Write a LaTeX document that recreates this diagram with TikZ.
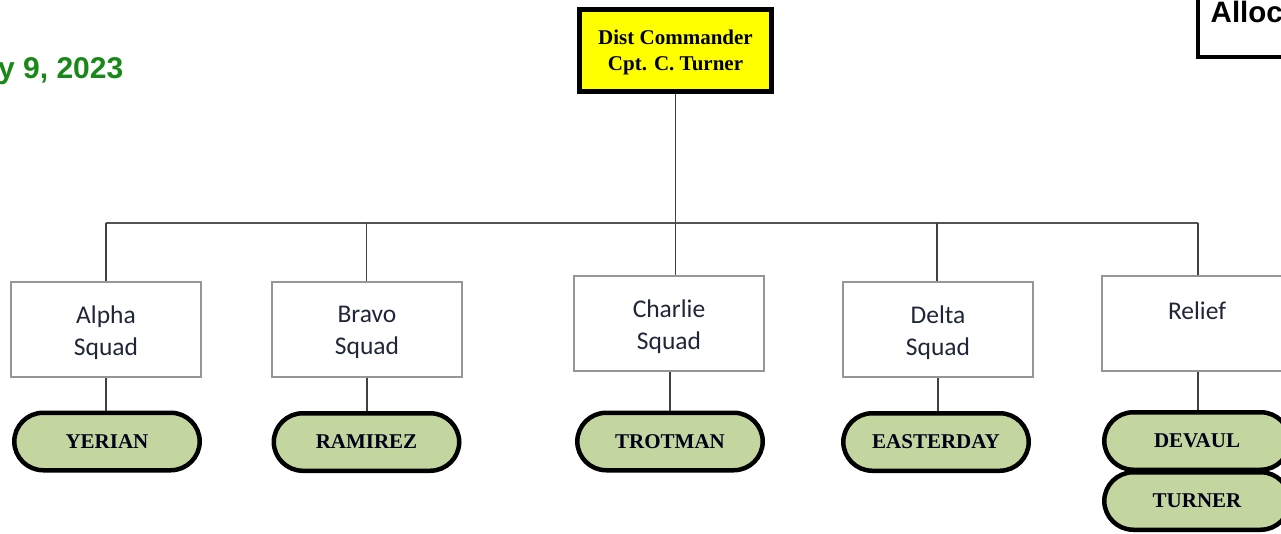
\documentclass[tikz,border=0pt]{standalone}
\usepackage{fontspec}
\setmainfont{Liberation Serif}
\newfontfamily\calibri{Carlito}
\newfontfamily\arialf{Liberation Sans}
\definecolor{pillgreen}{RGB}{196,214,160}
\definecolor{cmdyellow}{RGB}{255,255,0}
\definecolor{datgreen}{RGB}{24,136,24}
\definecolor{squadtext}{RGB}{30,38,56}
\definecolor{linegray}{RGB}{64,64,64}
\definecolor{boxgray}{RGB}{150,150,150}
\newcommand{\lowr}[2]{\raisebox{-#1}[\height][\depth]{#2}}
\tikzset{
  cmdbox/.style={draw=black, line width=5pt, fill=cmdyellow, minimum width=192pt, minimum height=82pt, inner sep=0pt, align=center, font=\fontsize{21}{26}\selectfont\bfseries},
  squadbox/.style={draw=boxgray, line width=1.4pt, fill=white, minimum width=190pt, minimum height=95pt, inner sep=0pt, align=center, text=squadtext, font=\calibri\fontsize{25.5}{32}\selectfont},
  pill/.style={draw=black, line width=4.5pt, fill=pillgreen, rounded corners=29pt, minimum width=185.5pt, minimum height=57.5pt, inner sep=0pt, text=black!90!blue, font=\fontsize{21}{24}\selectfont\bfseries},
  conn/.style={draw=linegray, line width=1.3pt},
  bar/.style={draw=linegray!90, line width=2pt}
}
\begin{document}
\begin{tikzpicture}[x=1pt,y=-1pt]
\useasboundingbox (0,0) rectangle (1281,533);
% cropped header elements
\node[anchor=base east, text=datgreen, font=\arialf\fontsize{30}{30}\selectfont\bfseries, inner sep=0pt] (date) at (123.5,78.5) {y 9, 2023};
\draw[line width=4pt, draw=black, fill=white] (1198,-20) rectangle (1400,56.5);
\node[anchor=base west, font=\arialf\fontsize{29.5}{30}\selectfont\bfseries, inner sep=0pt] (alloc) at (1210.5,22.5) {Alloc};
% commander
\node[cmdbox] (cmd) at (675.5,50.5) {\lowr{2pt}{Dist Commander}\\\lowr{2pt}{Cpt. C. Turner}};
\coordinate (barL) at (106,222.5);
\coordinate (barR) at (1198,222.5);
\coordinate (barM) at (675.5,222.5);
\coordinate (dB) at (366.5,222.5);
\coordinate (dD) at (937,222.5);
% squads
\node[squadbox] (alpha) at (106,329.5) {\lowr{3pt}{Alpha}\\\lowr{3pt}{Squad}};
\node[squadbox] (bravo) at (367,329.5) {\lowr{3pt}{Bravo}\\\lowr{3pt}{Squad}};
\node[squadbox] (charlie) at (669,323.5) {\lowr{3pt}{Charlie}\\\lowr{3pt}{Squad}};
\node[squadbox] (delta) at (938,329.5) {\lowr{3pt}{Delta}\\\lowr{3pt}{Squad}};
\node[squadbox] (relief) at (1197,323.5) {\lowr{3pt}{Relief}\\~};
% pills
\node[pill] (yerian) at (107,441.5) {YERIAN};
\node[pill] (ramirez) at (366.5,442) {RAMIREZ};
\node[pill] (trotman) at (670,441.5) {TROTMAN};
\node[pill] (easterday) at (936,442) {EASTERDAY};
\node[pill] (turner) at (1197,501) {TURNER};
\node[pill] (devaul) at (1197,441) {DEVAUL};
% connectors
\draw[conn] (cmd.south) -- (barM);
\draw[bar] (barL) -- (barR);
\draw[conn] (barL) -- (barL |- alpha.north);
\draw[conn] (dB) -- (dB |- bravo.north);
\draw[conn] (barM) -- (barM |- charlie.north);
\draw[conn] (dD) -- (dD |- delta.north);
\draw[conn] (barR) -- (barR |- relief.north);
\draw[conn] (yerian.north -| alpha.south) -- (alpha.south);
\draw[conn] (bravo.south) -- (bravo.south |- ramirez.north);
\draw[conn] (trotman.north) -- (trotman.north |- charlie.south);
\draw[conn] (delta.south) -- (delta.south |- easterday.north);
\draw[conn] (barR |- relief.south) -- (barR |- devaul.north);
\end{tikzpicture}
\end{document}
